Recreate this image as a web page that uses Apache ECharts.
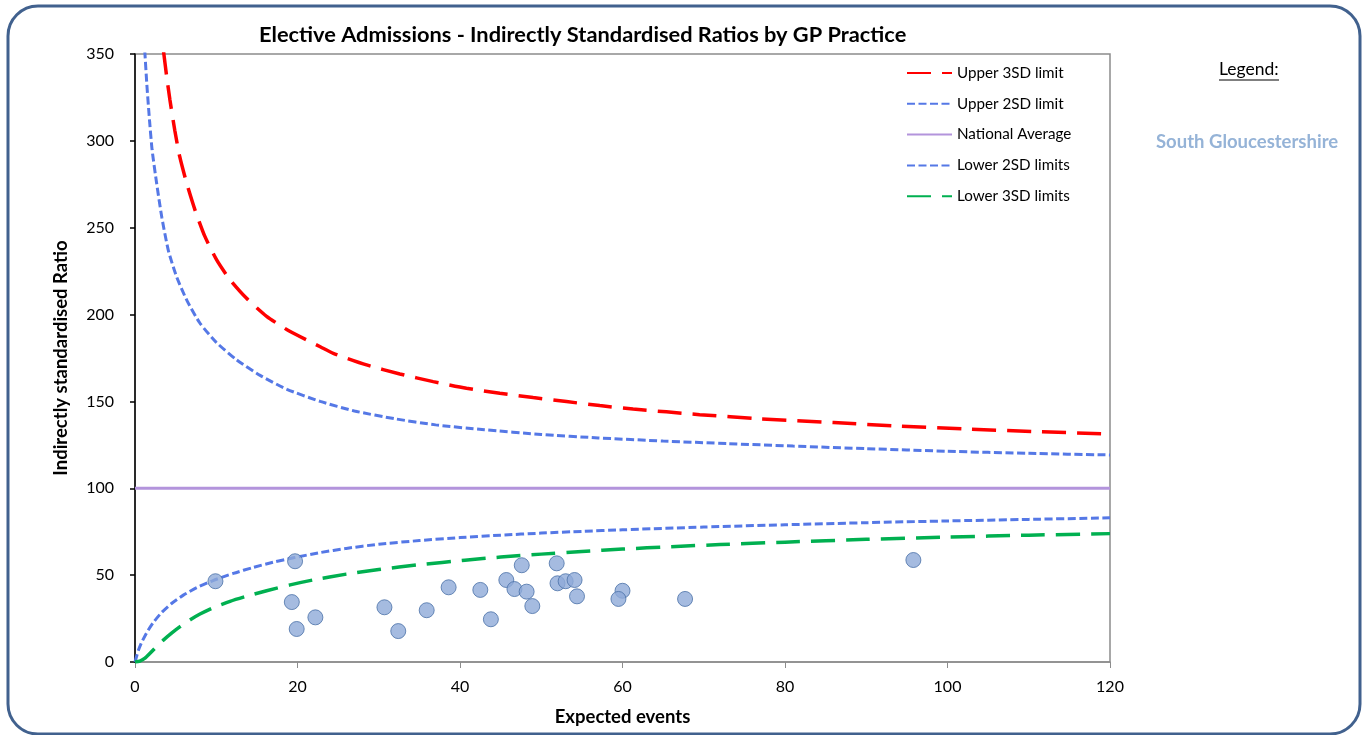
<!DOCTYPE html>
<html>
<head>
<meta charset="utf-8">
<script src="https://cdn.jsdelivr.net/npm/echarts@6/dist/echarts.min.js"></script>
<style>
  html, body { margin: 0; padding: 0; background: #fff; }
  #main { width: 1367px; height: 735px; }
</style>
</head>
<body>
<div id="main"></div>
<script>
// values: [expected events, ratio]
var upper3 = [[3.5,352],[3.9,337],[4.3,323.5],[4.9,306],[5.5,291],[6.36,275.6],[7.4,260],[8.6,245],[10.05,231.5],[11.7,220],[13.7,209.5],[16.2,199],[19.1,190.2],[22.8,181.5],[24.4,177.7],[28.5,171],[32.6,165.8],[36.7,161.4],[40.8,157.6],[44.9,154.7],[49,152.2],[53.1,149.9],[57.2,147.6],[61.3,145.6],[65.4,144],[69.5,142.4],[77,140],[86,137.8],[94,135.8],[102,134.2],[111,132.6],[120,131.3]];
var upper2 = [[1.2,352],[1.45,333],[1.75,314],[2.1,295],[2.65,276],[3.3,256],[4.1,237],[5.1,222],[6.4,208],[8,195],[10,184],[12.5,174],[15.4,165],[18.7,157],[22.8,150],[27,144.5],[32,140],[37,136.5],[43,133.7],[50,131],[57,129],[65,127.2],[73,125.7],[81,124.3],[90,122.8],[100,121.3],[110,120.1],[120,119.2]];
var national = [[0,100],[120,100]];
var lower2 = [[0,0],[0.41,6.6],[0.82,11.3],[1.44,16.9],[2.25,22.7],[3.28,28.5],[4.5,33.7],[5.95,38.5],[7.6,42.8],[9.6,46.9],[12.1,51],[14.6,54.5],[17,57.4],[19.5,60],[22.8,63],[26,65.4],[30,67.8],[35,69.9],[40,71.6],[45,73],[50,74.2],[55,75.2],[60,76.1],[70,77.7],[80,79],[90,80.2],[100,81.2],[110,82.1],[120,83]];
var lower3 = [[0,0],[0.6,0.5],[1.23,2.2],[1.85,5],[2.67,8.9],[3.49,12.6],[4.5,16.6],[5.5,20.2],[6.8,24.3],[8,27.6],[9.6,31.2],[11.7,34.9],[13.7,37.8],[16.2,41],[19.1,44.4],[21.9,47.2],[26,50.6],[30,53.2],[35,56],[40.6,58.6],[45,60.4],[50,62.1],[55,63.6],[60,65],[66,66.4],[72,67.6],[80,69],[90,70.6],[100,71.9],[110,73],[120,73.9]];
var practices = [[9.9,46.5],[19.7,58],[19.3,34.5],[19.9,19],[22.2,25.7],[30.7,31.5],[32.4,17.8],[35.9,29.8],[38.6,43],[42.5,41.5],[43.8,24.6],[45.7,47.2],[47.6,55.7],[46.7,42],[48.2,40.5],[48.9,32.2],[51.9,56.8],[52.0,45.3],[53.0,46.5],[54.1,47.2],[54.4,37.8],[60.0,41],[59.5,36.3],[67.7,36.3],[95.8,58.7]];
var seriesNames = ['Upper 3SD limit','Upper 2SD limit','National Average','Lower 2SD limits','Lower 3SD limits'];

var FONT = 'Lato';
var myChart = echarts.init(document.getElementById('main'));

function limitLine(name, data, color, width, dash) {
    return {
        name: name,
        type: 'line',
        data: data,
        showSymbol: false,
        symbol: 'none',
        smooth: 0.2,
        silent: true,
        lineStyle: { color: color, width: width, type: dash, cap: 'butt' },
        itemStyle: { color: color },
        z: 2
    };
}

var option = {
    backgroundColor: '#fff',
    animation: false,
    textStyle: { fontFamily: FONT },
    title: {
        text: 'Elective Admissions - Indirectly Standardised Ratios by GP Practice',
        left: 259,
        top: 24,
        padding: 0,
        textStyle: { fontFamily: FONT, fontSize: 21.8, fontWeight: 'bold', color: '#000' }
    },
    legend: {
        data: seriesNames,
        orient: 'vertical',
        left: 906,
        top: 65.5,
        padding: 0,
        itemWidth: 45,
        itemHeight: 15,
        itemGap: 15.8,
        selectedMode: false,
        itemStyle: { color: 'transparent', borderWidth: 0 },
        textStyle: { fontFamily: FONT, fontSize: 15.2, color: '#000' }
    },
    grid: {
        left: 135, right: 257, top: 54, bottom: 73,
        show: true,
        borderColor: '#8c8c8c',
        borderWidth: 1.5,
        backgroundColor: 'transparent'
    },
    xAxis: {
        type: 'value',
        min: 0, max: 120, interval: 20,
        name: 'Expected events',
        nameLocation: 'middle',
        nameGap: 46,
        nameTextStyle: { fontFamily: FONT, fontSize: 18.5, fontWeight: 'bold', color: '#000' },
        axisLine: { show: true, lineStyle: { color: '#8c8c8c', width: 1.5 } },
        axisTick: { show: true, length: 6, lineStyle: { color: '#8c8c8c' } },
        axisLabel: { fontSize: 16, color: '#000', margin: 17 },
        splitLine: { show: false }
    },
    yAxis: {
        type: 'value',
        min: 0, max: 350, interval: 50,
        name: 'Indirectly standardised Ratio',
        nameLocation: 'middle',
        nameGap: 64,
        nameRotate: 90,
        nameTextStyle: { fontFamily: FONT, fontSize: 18.5, fontWeight: 'bold', color: '#000' },
        axisLine: { show: true, lineStyle: { color: '#000', width: 1.5 } },
        axisTick: { show: true, length: 5, lineStyle: { color: '#000', width: 1.5 } },
        axisLabel: { fontSize: 16, color: '#000', margin: 21 },
        splitLine: { show: false }
    },
    graphic: [
        {
            type: 'rect',
            shape: { x: 8, y: 6, width: 1352, height: 728, r: 30 },
            style: { fill: 'none', stroke: '#41618e', lineWidth: 3 },
            silent: true
        },
        {
            type: 'text',
            left: 1219, top: 60,
            style: { text: 'Legend:', font: '17.5px ' + FONT, fill: '#000' }
        },
        {
            type: 'line',
            shape: { x1: 1219, y1: 80, x2: 1279, y2: 80 },
            style: { stroke: '#000', lineWidth: 1.2 }
        },
        {
            type: 'text',
            left: 1156, top: 133,
            style: { text: 'South Gloucestershire', font: 'bold 18.5px ' + FONT, fill: '#95b3d7' }
        }
    ],
    series: [
        limitLine(seriesNames[0], upper3, '#ff0000', 3.5, [24, 11]),
        limitLine(seriesNames[1], upper2, '#5578e6', 3, [8, 3.5]),
        limitLine(seriesNames[2], national, '#b394dc', 3, 'solid'),
        limitLine(seriesNames[3], lower2, '#5578e6', 3, [8, 3.5]),
        limitLine(seriesNames[4], lower3, '#00b050', 3.5, [24, 11]),
        {
            name: 'Practices',
            type: 'scatter',
            data: practices,
            symbol: 'circle',
            symbolSize: 15,
            itemStyle: { color: '#8eaad8', borderColor: '#4a70a8', borderWidth: 1 },
            z: 5
        }
    ]
};
myChart.setOption(option);
</script>
</body>
</html>
